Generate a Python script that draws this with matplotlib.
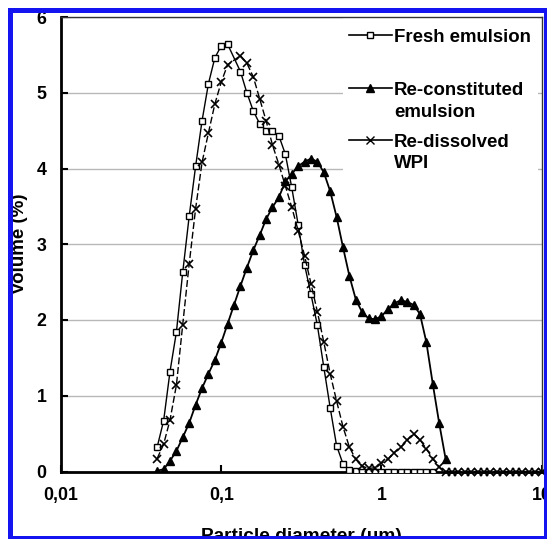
import matplotlib
matplotlib.use("Agg")
import matplotlib.pyplot as plt
from matplotlib.lines import Line2D
from matplotlib.patches import Rectangle

plt.rcParams['font.family'] = ['Liberation Sans', 'DejaVu Sans']
plt.rcParams['font.weight'] = 'bold'

# particle size classes (um)
size_bins = [0.0398, 0.0437, 0.0479, 0.0525, 0.0575, 0.0631, 0.0692, 0.0759, 0.0832, 0.0912,
             0.1000, 0.1096, 0.1202, 0.1318, 0.1445, 0.1585, 0.1738, 0.1905, 0.2089, 0.2291,
             0.2512, 0.2754, 0.3020, 0.3311, 0.3631, 0.3981, 0.4365, 0.4786, 0.5248, 0.5754,
             0.6310, 0.6918, 0.7586, 0.8318, 0.9120, 1.000, 1.096, 1.202, 1.318, 1.445,
             1.585, 1.738, 1.905, 2.089, 2.291, 2.512, 2.754, 3.020, 3.311, 3.631,
             3.981, 4.365, 4.786, 5.248, 5.754, 6.310, 6.918, 7.586, 8.318, 9.120, 10.00]

size_fresh = size_bins[:12] + size_bins[13:44]
vol_fresh = [0.32, 0.67, 1.32, 1.84, 2.63, 3.37, 4.03, 4.63, 5.12, 5.46, 5.62, 5.64,
             5.28, 5.00, 4.76, 4.59, 4.50, 4.49, 4.43, 4.19, 3.75, 3.26, 2.73, 2.34, 1.93,
             1.38, 0.84, 0.34, 0.10, 0.02, 0.01, 0, 0, 0, 0, 0, 0, 0, 0, 0, 0, 0, 0]

size_recon = size_bins[:46]
vol_recon = [0.01, 0.03, 0.14, 0.27, 0.45, 0.64, 0.88, 1.10, 1.29, 1.47,
             1.70, 1.95, 2.20, 2.45, 2.69, 2.92, 3.12, 3.33, 3.49, 3.62,
             3.83, 3.93, 4.03, 4.09, 4.13, 4.09, 3.95, 3.70, 3.36, 2.96,
             2.58, 2.27, 2.10, 2.02, 2.01, 2.05, 2.14, 2.22, 2.26, 2.24,
             2.20, 2.08, 1.71, 1.16, 0.64, 0.17]

size_wpi = size_bins[:12] + size_bins[13:]
vol_wpi = [0.17, 0.36, 0.68, 1.14, 1.94, 2.74, 3.47, 4.08, 4.47, 4.85, 5.14, 5.37,
           5.49, 5.39, 5.21, 4.92, 4.63, 4.31, 4.05, 3.77, 3.49, 3.18, 2.85, 2.48,
           2.11, 1.71, 1.29, 0.93, 0.59, 0.32, 0.16, 0.07, 0.04, 0.05, 0.11, 0.16,
           0.25, 0.32, 0.41, 0.50, 0.42, 0.30, 0.17, 0.06,
           0, 0, 0, 0, 0, 0, 0, 0, 0, 0, 0, 0, 0, 0, 0, 0]

x_ticks = [0.01, 0.1, 1, 10]
x_ticklabels = ['0,01', '0,1', '1', '10']
y_ticks = [0, 1, 2, 3, 4, 5, 6]
legend_labels = [['Fresh emulsion'], ['Re-constituted', 'emulsion'], ['Re-dissolved', 'WPI']]

W, H = 547, 539
fig = plt.figure(figsize=(W / 100, H / 100), dpi=100)
fx = lambda px: px / W
fy = lambda py: 1 - py / H

L, R, T, B = 61, 541.7, 17, 471.5
ax = fig.add_axes([fx(L), fy(B), (R - L) / W, (B - T) / H])
ax.set_xscale('log')
ax.set_xlim(0.01, 10)
ax.set_ylim(0, 6)
ax.set_xticks(x_ticks)
ax.set_xticklabels(x_ticklabels)
ax.minorticks_off()
ax.set_yticks(y_ticks)
ax.set_yticklabels([str(v) for v in y_ticks])
ax.tick_params(axis='both', direction='in', length=5, width=1.5, labelsize=12.8)
ax.tick_params(axis='x', pad=11)
ax.tick_params(axis='y', pad=10.5)
for lab in ax.get_xticklabels() + ax.get_yticklabels():
    lab.set_fontweight('bold')

ax.set_axisbelow(True)
ax.yaxis.grid(True, color='#b8b8b8', lw=1.0)
ax.xaxis.grid(False)

for s in ['left', 'bottom']:
    ax.spines[s].set_linewidth(2.0)
for s in ['top', 'right']:
    ax.spines[s].set_linewidth(1.0)
    ax.spines[s].set_color('#333333')

# legend background box (covers gridlines)
lx0, lx1, ly0, ly1 = 343, 538, 17, 185
ax.add_patch(Rectangle((fx(lx0), fy(ly1)), fx(lx1) - fx(lx0), fy(ly0) - fy(ly1),
                       transform=fig.transFigure, facecolor='white', edgecolor='none', zorder=1))

ax.plot(size_fresh, vol_fresh, color='black', lw=1.0, marker='s', ms=5.0,
        mfc='white', mec='black', mew=1.0, zorder=3)
ax.plot(size_recon, vol_recon, color='black', lw=1.3, marker='^', ms=5.8,
        mfc='black', mec='black', zorder=4)
ax.plot(size_wpi, vol_wpi, color='black', lw=1.0, ls=(0, (5, 2)), marker='x', ms=6.0,
        mew=1.2, mec='black', zorder=5, clip_on=False)

# manual legend
handle_y = [35, 88, 140]
markers = [dict(marker='s', ms=5, mfc='white', mec='black', mew=1.0),
           dict(marker='^', ms=6, mfc='black', mec='black'),
           dict(marker='x', ms=5.5, mec='black', mew=1.0)]
text_baselines = [[41.5], [95, 117], [147, 168.5]]
for hy, mk, labs, bls in zip(handle_y, markers, legend_labels, text_baselines):
    fig.add_artist(Line2D([fx(349), fx(392)], [fy(hy), fy(hy)], transform=fig.transFigure,
                          color='black', lw=1.2, zorder=6))
    fig.add_artist(Line2D([fx(370.5)], [fy(hy)], transform=fig.transFigure, ls='none',
                          zorder=7, **mk))
    for lab, bl in zip(labs, bls):
        fig.text(fx(394), fy(bl), lab, fontsize=13.4, fontweight='bold', ha='left',
                 va='baseline', zorder=7)

fig.text(fx(20), fy(244), 'Volume (%)', rotation=90, fontsize=13.5, fontweight='bold',
         ha='center', va='center')
fig.text(fx(301), fy(528), 'Particle diameter (\u03bcm)', fontsize=13.8, fontweight='bold',
         ha='center', va='top')

# blue frame
fig.add_artist(Rectangle((fx(9.5), fy(537.5)), fx(545.5) - fx(9.5), fy(10) - fy(537.5),
                         transform=fig.transFigure, facecolor='none', edgecolor='#1414f0',
                         lw=3.6, zorder=20))

fig.savefig('out.png', dpi=100)
